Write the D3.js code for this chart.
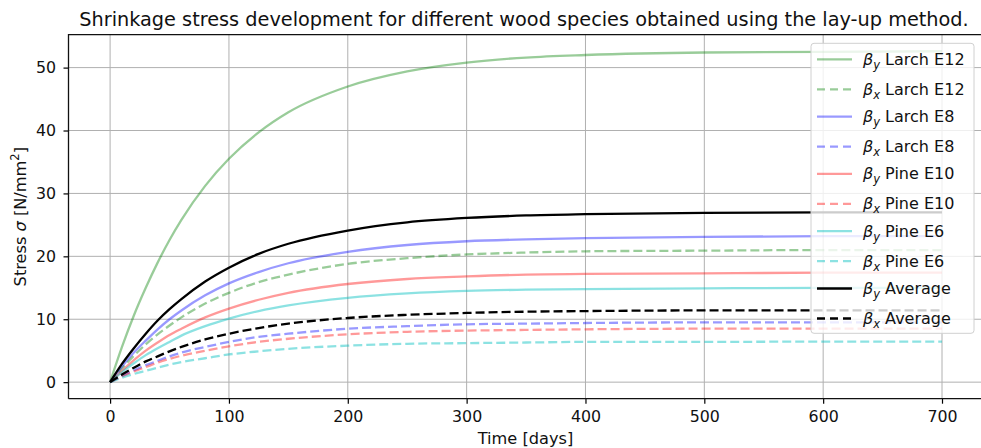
<!DOCTYPE html>
<html>
<head>
<meta charset="utf-8">
<script src="https://cdn.jsdelivr.net/npm/d3@7"></script>
<style>
  body { margin: 0; background: #fff; }
  svg { font-family: "DejaVu Sans", sans-serif; }
</style>
</head>
<body>
<div id="container"></div>
<script>
const width = 981;
const height = 448;

// time samples (days) and stress values
const days = [0, 10, 20, 30, 40, 50, 60, 80, 100, 125, 150, 200, 250, 300, 350, 400, 500, 600, 700];
const larchE12y = [0, 5.6, 10.6, 15.0, 19.0, 22.6, 25.8, 31.2, 35.5, 39.7, 42.9, 47.0, 49.4, 50.8, 51.6, 52.0, 52.4, 52.5, 52.6];
const larchE12x = [0, 2.2, 4.2, 6.0, 7.6, 9.0, 10.3, 12.5, 14.2, 15.9, 17.1, 18.8, 19.7, 20.3, 20.6, 20.8, 20.9, 21.0, 21.0];
const larchE8y = [0, 2.5, 4.7, 6.6, 8.4, 10.0, 11.4, 13.8, 15.7, 17.5, 18.9, 20.7, 21.8, 22.4, 22.7, 22.9, 23.1, 23.2, 23.2];
const larchE8x = [0, 1.0, 1.9, 2.7, 3.4, 4.1, 4.7, 5.6, 6.4, 7.2, 7.7, 8.5, 8.9, 9.2, 9.3, 9.4, 9.5, 9.5, 9.5];
const pineE10y = [0, 1.8, 3.5, 5.0, 6.3, 7.5, 8.5, 10.3, 11.7, 13.1, 14.2, 15.6, 16.4, 16.8, 17.1, 17.2, 17.3, 17.4, 17.4];
const pineE10x = [0, 0.9, 1.7, 2.4, 3.1, 3.7, 4.2, 5.0, 5.7, 6.4, 6.9, 7.6, 8.0, 8.2, 8.3, 8.4, 8.5, 8.5, 8.5];
const pineE6y = [0, 1.6, 3.0, 4.3, 5.4, 6.4, 7.4, 8.9, 10.1, 11.3, 12.2, 13.4, 14.1, 14.5, 14.7, 14.8, 14.9, 15.0, 15.0];
const pineE6x = [0, 0.7, 1.3, 1.8, 2.3, 2.8, 3.2, 3.8, 4.4, 4.9, 5.3, 5.8, 6.1, 6.2, 6.3, 6.4, 6.4, 6.45, 6.45];
const averageY = [0, 2.9, 5.4, 7.7, 9.8, 11.6, 13.2, 16.0, 18.2, 20.4, 22.0, 24.1, 25.4, 26.1, 26.5, 26.7, 26.9, 27.0, 27.0];
const averageX = [0, 1.2, 2.3, 3.3, 4.1, 4.9, 5.6, 6.8, 7.7, 8.6, 9.3, 10.2, 10.7, 11.0, 11.2, 11.3, 11.4, 11.4, 11.4];

const xTicks = [0, 100, 200, 300, 400, 500, 600, 700];
const yTicks = [0, 10, 20, 30, 40, 50];

const series = [
  { dir: "y", name: "Larch E12", values: larchE12y, color: "#008000", alpha: 0.4 },
  { dir: "x", name: "Larch E12", values: larchE12x, color: "#008000", alpha: 0.4 },
  { dir: "y", name: "Larch E8", values: larchE8y, color: "#0000ff", alpha: 0.4 },
  { dir: "x", name: "Larch E8", values: larchE8x, color: "#0000ff", alpha: 0.4 },
  { dir: "y", name: "Pine E10", values: pineE10y, color: "#ff0000", alpha: 0.4 },
  { dir: "x", name: "Pine E10", values: pineE10x, color: "#ff0000", alpha: 0.4 },
  { dir: "y", name: "Pine E6", values: pineE6y, color: "#00bfbf", alpha: 0.45 },
  { dir: "x", name: "Pine E6", values: pineE6x, color: "#00bfbf", alpha: 0.45 },
  { dir: "y", name: "Average", values: averageY, color: "#000000", alpha: 1 },
  { dir: "x", name: "Average", values: averageX, color: "#000000", alpha: 1 }
];

const plotLeft = 68.5, plotRight = 983.6, plotTop = 34.7, plotBottom = 398.7;

const x = d3.scaleLinear().domain([-35, 735]).range([plotLeft, plotRight]);
const y = d3.scaleLinear().domain([-2.63, 55.23]).range([plotBottom, plotTop]);

const svg = d3.select("#container").append("svg")
  .attr("width", width)
  .attr("height", height);

// grid
const grid = svg.append("g").attr("stroke", "#b0b0b0").attr("stroke-width", 1);
grid.selectAll(".gx").data(xTicks).enter().append("line")
  .attr("x1", d => x(d)).attr("x2", d => x(d))
  .attr("y1", plotTop).attr("y2", plotBottom);
grid.selectAll(".gy").data(yTicks).enter().append("line")
  .attr("x1", plotLeft).attr("x2", plotRight)
  .attr("y1", d => y(d)).attr("y2", d => y(d));

// curves
const line = d3.line()
  .x((d, i) => x(days[i]))
  .y(d => y(d))
  .curve(d3.curveMonotoneX);

svg.append("g").selectAll("path")
  .data(series)
  .enter().append("path")
  .attr("d", d => line(d.values))
  .attr("fill", "none")
  .attr("stroke", d => d.color)
  .attr("stroke-opacity", d => d.alpha)
  .attr("stroke-width", 2.3)
  .attr("stroke-dasharray", d => d.dir === "x" ? "9,4" : null);

// axes
const xAxis = svg.append("g")
  .attr("transform", `translate(0,${plotBottom})`)
  .call(d3.axisBottom(x).tickValues(xTicks).tickSize(5).tickPadding(7.5));
const yAxis = svg.append("g")
  .attr("transform", `translate(${plotLeft},0)`)
  .call(d3.axisLeft(y).tickValues(yTicks).tickSize(5).tickPadding(7.5));

[xAxis, yAxis].forEach(a => {
  a.select(".domain").remove();
  a.selectAll("line").attr("stroke", "#000").attr("stroke-width", 1.2);
  a.selectAll("text").attr("font-size", 15.8).attr("fill", "#111")
    .attr("font-family", "DejaVu Sans");
});

// spines
svg.append("path")
  .attr("d", `M${plotLeft},${plotBottom}V${plotTop}H${plotRight}M${plotLeft},${plotBottom}H${plotRight}`)
  .attr("fill", "none").attr("stroke", "#111").attr("stroke-width", 1.3);

// title and axis labels
svg.append("text")
  .attr("x", 524).attr("y", 26)
  .attr("text-anchor", "middle")
  .attr("font-size", 19.3).attr("fill", "#111")
  .text("Shrinkage stress development for different wood species obtained using the lay-up method.");

svg.append("text")
  .attr("x", 525.5).attr("y", 443.5)
  .attr("text-anchor", "middle")
  .attr("font-size", 16.2).attr("fill", "#111")
  .text("Time [days]");

const ylab = svg.append("text")
  .attr("transform", `translate(25.5,${(plotTop + plotBottom) / 2}) rotate(-90)`)
  .attr("text-anchor", "middle")
  .attr("font-size", 16.2).attr("fill", "#111");
ylab.append("tspan").text("Stress ");
ylab.append("tspan").attr("font-style", "italic").text("σ");
ylab.append("tspan").text(" [N/mm");
ylab.append("tspan").attr("font-size", 11.5).attr("dy", -6.5).text("2");
ylab.append("tspan").attr("dy", 6.5).text("]");

// legend
const legend = svg.append("g");
legend.append("rect")
  .attr("x", 811).attr("y", 43.3)
  .attr("width", 163).attr("height", 290)
  .attr("rx", 3)
  .attr("fill", "#fff").attr("fill-opacity", 0.8)
  .attr("stroke", "#d0d0d0").attr("stroke-width", 1);

let rowY = 59.3;
series.forEach((s, i) => {
  if (i > 0) rowY += s.dir === "x" ? 30 : 27.3;
  const g = legend.append("g").attr("transform", `translate(0,${rowY})`);
  g.append("line")
    .attr("x1", 817).attr("x2", 852)
    .attr("stroke", s.color).attr("stroke-opacity", s.alpha)
    .attr("stroke-width", 2.3)
    .attr("stroke-dasharray", s.dir === "x" ? "8,5" : null);
  const t = g.append("text")
    .attr("x", 863).attr("y", 5.5)
    .attr("font-size", 16).attr("fill", "#111");
  t.append("tspan").attr("font-style", "italic").text("β");
  t.append("tspan").attr("font-style", "italic").attr("font-size", 11.5).attr("dy", 4).text(s.dir);
  t.append("tspan").attr("dy", -4).text(" " + s.name);
});
</script>
</body>
</html>
